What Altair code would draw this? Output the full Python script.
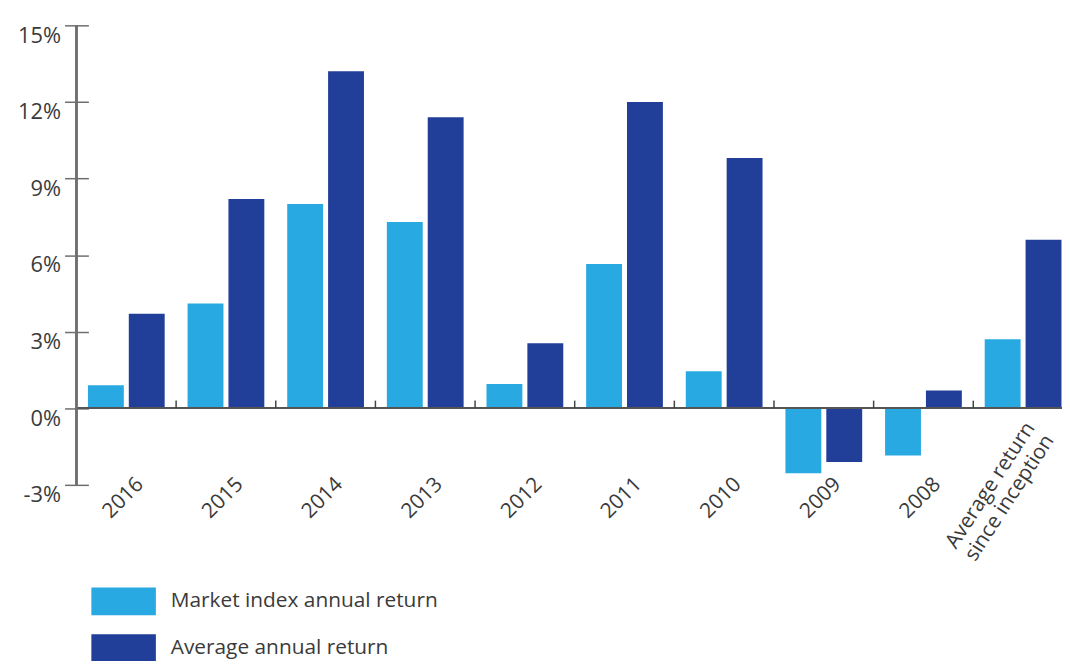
import altair as alt
import pandas as pd

categories = ["2016", "2015", "2014", "2013", "2012", "2011", "2010", "2009", "2008",
              "Average return since inception"]
last_label_lines = "Average return\nsince inception"
series_names = ["Market index annual return", "Average annual return"]
market = [0.9, 4.1, 8.0, 7.3, 0.95, 5.65, 1.45, -2.55, -1.85, 2.7]
average = [3.7, 8.2, 13.2, 11.4, 2.55, 12.0, 9.8, -2.1, 0.7, 6.6]
colors = ["#29a9e1", "#213e98"]
y_ticks = [-3, 0, 3, 6, 9, 12, 15]

rows = []
for c, m, a in zip(categories, market, average):
    rows.append({"cat": c, "series": series_names[0], "value": m})
    rows.append({"cat": c, "series": series_names[1], "value": a})
df = pd.DataFrame(rows)
df_bounds = pd.DataFrame({"cat": categories[1:]})
df_last = pd.DataFrame({"cat": [categories[-1]], "label": [last_label_lines]})

FONT = "Open Sans"
W, H = 1004, 463
LAST = "datum.label == 'Average return since inception'"

x_scale = alt.Scale(domain=categories, paddingInner=0, paddingOuter=0)
y_scale = alt.Scale(domain=[-3, 15], nice=False, zero=False)

bars = alt.Chart(df).mark_bar().encode(
    x=alt.X("cat:N", scale=x_scale, sort=categories, title=None,
            axis=alt.Axis(labelAngle=-45, labelAlign="right", labelBaseline="middle",
                          labelOffset=14, labelPadding=-4,
                          ticks=False, domain=False,
                          labelFont=FONT, labelFontSize=21, labelColor="#3a3a3a",
                          labelExpr=LAST + " ? '' : datum.label")),
    xOffset=alt.XOffset("series:N", sort=series_names,
                        scale=alt.Scale(domain=series_names, paddingInner=0.122, paddingOuter=0.28)),
    y=alt.Y("value:Q", scale=y_scale, title=None,
            axis=alt.Axis(values=y_ticks, labelExpr="datum.value + '%'", domain=False,
                          offset=-12, tickSize=24, tickColor="#6e6e6e", tickWidth=1.5,
                          labelPadding=4, labelBaseline="top", labelFont=FONT,
                          labelFontSize=22, labelColor="#3a3a3a", grid=False)),
    color=alt.Color("series:N", sort=series_names,
                    scale=alt.Scale(domain=series_names, range=colors),
                    legend=alt.Legend(title=None, orient="none", legendX=15, legendY=548,
                                      direction="vertical", padding=0,
                                      symbolType="M-1,-0.43H1V0.43H-1Z", symbolSize=4225,
                                      symbolStrokeWidth=0, symbolOpacity=1,
                                      labelFont=FONT, labelFontSize=21, labelColor="#3a3a3a",
                                      labelOffset=15, rowPadding=-18, labelLimit=400)),
)

# dx/dy act in the rotated text frame (angle 303 deg)
last_label = alt.Chart(df_last).mark_text(
    angle=303, align="right", baseline="middle", lineBreak="\n", lineHeight=23,
    font=FONT, fontSize=21, color="#3a3a3a", dx=55, dy=-27,
).encode(
    x=alt.X("cat:N", scale=x_scale, sort=categories),
    y=alt.datum(-3, scale=y_scale),
    text="label:N",
)

zero_line = alt.Chart(df_bounds).mark_rule(color="#555555", strokeWidth=1.5).encode(
    y=alt.datum(0, scale=y_scale)
)

bound_ticks = alt.Chart(df_bounds).mark_rule(color="#444444", strokeWidth=1.5).encode(
    x=alt.X("cat:N", scale=x_scale, sort=categories, bandPosition=0),
    y=alt.datum(0, scale=y_scale),
    y2=alt.datum(0.3),
)

y_domain = alt.Chart(df_bounds).mark_rule(color="#6e6e6e", strokeWidth=1.5).encode(
    x=alt.value(0),
    y=alt.datum(-3, scale=y_scale),
    y2=alt.datum(15),
)

chart = alt.layer(bars, zero_line, bound_ticks, y_domain, last_label).properties(
    width=W, height=H,
    autosize=alt.AutoSizeParams(type="none"),
    padding={"left": 69, "top": 15, "right": -11, "bottom": 175},
).configure_view(stroke=None)

chart.save("out.html", embed_options={"renderer": "svg", "actions": False})
